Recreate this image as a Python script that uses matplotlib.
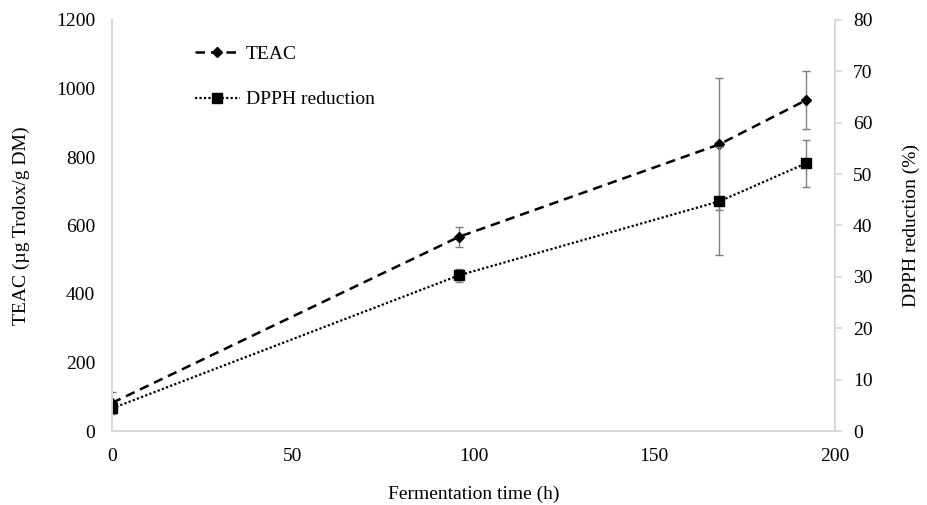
import numpy as np
import matplotlib
matplotlib.use('Agg')
import matplotlib.pyplot as plt

# values
time_h = [0, 96, 168, 192]
teac = [82, 567, 837, 966]
teac_err = [33, 29, 193, 85]
dpph = [4.4, 30.3, 44.7, 52.1]
dpph_err = [0.6, 1.3, 10.5, 4.6]

plt.rcParams['font.family'] = ['Liberation Serif', 'DejaVu Serif']
fs = 14
grey = '#d9d9d9'

fig = plt.figure(figsize=(9.28, 5.05), dpi=100)
ax = fig.add_axes([112/928, 1-431/505, 723/928, 411/505])
ax2 = ax.twinx()

l1 = ax.errorbar(time_h, teac, yerr=teac_err, color='black', ls=(0, (3.8, 2.4)), lw=1.8,
                 marker='D', ms=5.5, ecolor='#7f7f7f', elinewidth=1, capsize=3, capthick=1,
                 label='TEAC')
l2 = ax2.errorbar(time_h, dpph, yerr=dpph_err, color='black', ls=(0, (1, 1)), lw=1.6,
                  marker='s', ms=7.5, ecolor='#7f7f7f', elinewidth=1, capsize=3, capthick=1,
                  label='DPPH reduction')

ax.set_xlim(0, 200)
ax.set_ylim(0, 1200)
ax2.set_ylim(0, 80)
ax.set_xticks(np.arange(0, 201, 50))
ax.set_yticks(np.arange(0, 1201, 200))
ax2.set_yticks(np.arange(0, 81, 10))

for a in (ax, ax2):
    for s in a.spines.values():
        s.set_color(grey)
        s.set_linewidth(1.3)
    a.spines['top'].set_visible(False)
ax.tick_params(axis='both', length=0, labelsize=fs)
ax.tick_params(axis='y', pad=12)
ax.tick_params(axis='x', pad=12)
ax2.tick_params(axis='y', length=5, width=1.3, color=grey, direction='out', pad=8, labelsize=fs)

ax.set_xlabel('Fermentation time (h)', fontsize=fs)
ax.set_ylabel('TEAC (µg Trolox/g DM)', fontsize=fs)
ax2.set_ylabel('DPPH reduction (%)', fontsize=fs)
ax.xaxis.set_label_coords(0.5, -0.133)
ax.yaxis.set_label_coords(-0.113, 0.5)
ax2.yaxis.set_label_coords(1.094, 0.5)

leg = ax.legend([l1[0], l2[0]], ['TEAC', 'DPPH reduction'], frameon=False, fontsize=fs,
                loc='upper left', bbox_to_anchor=(195/928, 1-45/505), bbox_transform=fig.transFigure,
                borderpad=0, borderaxespad=0, handlelength=2.3, handletextpad=0.3, labelspacing=1.45)

fig.savefig('out.png', dpi=100)
